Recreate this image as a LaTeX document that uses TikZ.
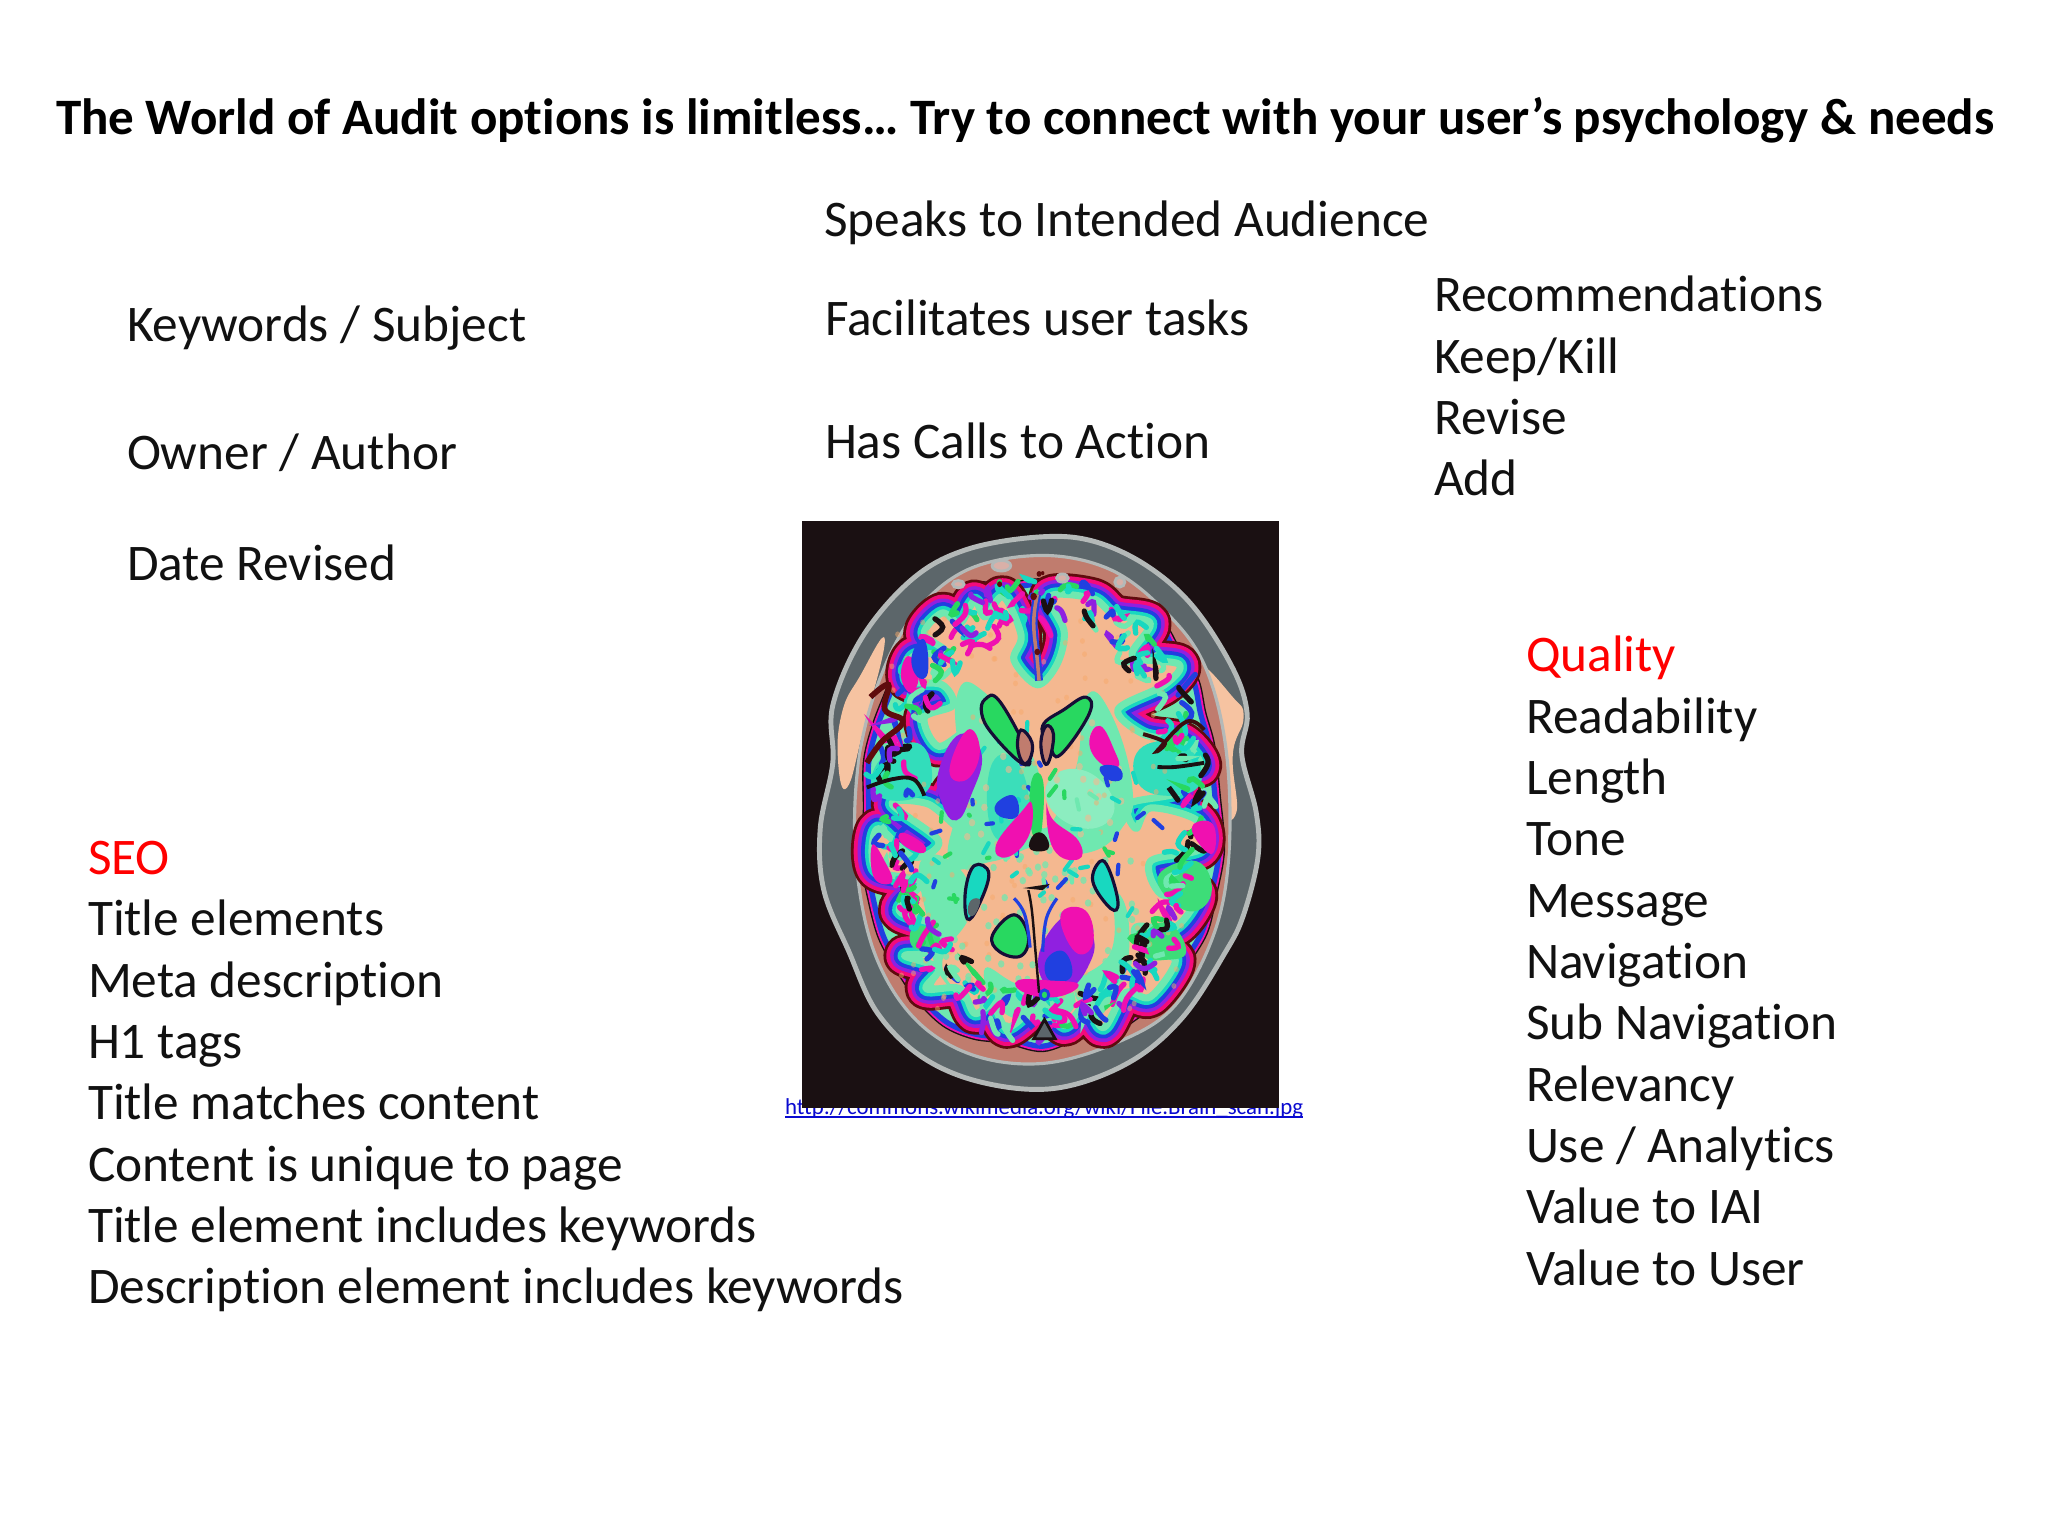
\documentclass[tikz,border=0pt]{standalone}
\usepackage{fontspec}
\setmainfont[Ligatures=NoCommon]{Carlito}
\usetikzlibrary{calc}
\definecolor{ink}{HTML}{111111}
\definecolor{seored}{HTML}{FF0000}
\definecolor{linkblue}{HTML}{0A0AD0}
\definecolor{scanblack}{HTML}{1A1012}
\definecolor{skull}{HTML}{5C666A}
\definecolor{skullline}{HTML}{B4B9B8}
\definecolor{scalp}{HTML}{C07C6E}
\definecolor{peach}{HTML}{F4B890}
\definecolor{mint}{HTML}{6FE8B0}
\definecolor{aqua}{HTML}{18D8C0}
\definecolor{green1}{HTML}{28D860}
\definecolor{blue1}{HTML}{2040E0}
\definecolor{mag}{HTML}{F010B0}
\definecolor{purp}{HTML}{9020E0}
\pgfmathdeclarerandomlist{foldcols}{{mag}{blue1}{aqua}{green1}{purp}{scanblack}{mag}{aqua}{mint}}
\pgfmathdeclarerandomlist{innercols}{{aqua}{mint}{blue1}{green1}}
\tikzset{
  body/.style={inner sep=0pt,outer sep=0pt,anchor=north west,align=left,text=ink,
    font=\fontsize{14.6pt}{17.45pt}\selectfont},
  titletext/.style={inner sep=0pt,outer sep=0pt,anchor=base west,text=black,
    font=\fontsize{14.52pt}{17.5pt}\selectfont\bfseries},
  linktext/.style={inner sep=0pt,outer sep=0pt,anchor=base west,text=linkblue,
    font=\fontsize{6.5pt}{7.5pt}\selectfont},
}
\newcommand{\foldband}[1]{%
  \draw[line width=12pt,color=scanblack!70!red,line join=round] plot[smooth cycle,tension=.55] coordinates {#1};
  \draw[line width=10.4pt,color=mag!70!red,line join=round] plot[smooth cycle,tension=.55] coordinates {#1};
  \draw[line width=8.2pt,color=purp,line join=round] plot[smooth cycle,tension=.55] coordinates {#1};
  \draw[line width=6.2pt,color=blue1,line join=round] plot[smooth cycle,tension=.55] coordinates {#1};
  \draw[line width=4pt,color=aqua,line join=round] plot[smooth cycle,tension=.55] coordinates {#1};
  \draw[line width=2pt,color=mint,line join=round,fill=peach] plot[smooth cycle,tension=.55] coordinates {#1};
}
\newcommand{\pialband}[1]{%
  \draw[line width=5pt,color=scalp,line join=round] plot[smooth cycle,tension=.55] coordinates {#1};
  \draw[line width=3.4pt,color=scanblack,line join=round] plot[smooth cycle,tension=.55] coordinates {#1};
  \draw[line width=2.6pt,color=mag,line join=round] plot[smooth cycle,tension=.55] coordinates {#1};
  \draw[line width=1.5pt,color=blue1,line join=round,fill=mint] plot[smooth cycle,tension=.55] coordinates {#1};
}
\newcommand{\blobline}[2]{%
  \draw[line width=.9pt,color=scanblack!85!blue,fill=#1] plot[smooth cycle,tension=.7] coordinates {#2};
}
\newcommand{\softblob}[2]{%
  \fill[#1] plot[smooth cycle,tension=.8] coordinates {#2};
}
\begin{document}
\begin{tikzpicture}[x=0.01cm,y=-0.01cm]
\useasboundingbox (0,0) rectangle (2048,1536);
\fill[white] (0,0) rectangle (2048,1536);

\node[titletext] (title) at (56,134) {The World of Audit options is limitless… Try to connect with your user’s psychology \& needs};

\node[body] (audience) at (824,201) {Speaks to Intended Audience};
\node[body] (keywords) at (127,306) {Keywords / Subject};
\node[body] (owner) at (127,434) {Owner / Author};
\node[body] (date) at (127,545) {Date Revised};
\node[body] (tasks) at (825,300) {Facilitates user tasks};
\node[body] (calls) at (825,423) {Has Calls to Action};
\node[body] (recs) at (1434,276) {Recommendations\\Keep/Kill\\Revise\\Add};
\node[body] (quality) at (1526,636) {\textcolor{seored}{Quality}\\Readability\\Length\\Tone\\Message\\Navigation\\Sub Navigation\\Relevancy\\Use / Analytics\\Value to IAI\\Value to User};
\node[body] (seo) at (88,841) {\textcolor{seored}{SEO}\\Title elements\\Meta description\\H1 tags\\Title matches content\\Content is unique to page\\Title element includes keywords\\Description element includes keywords};

\node[linktext] (link) at (785,1114) {http://commons.wikimedia.org/wiki/File.Brain\_scan.jpg};
\draw[linkblue,line width=.45pt] ($(link.base west)+(0,3)$) -- ($(link.base east)+(0,3)$);

% the scan, in its own coordinates
\begin{scope}[shift={(770,500)},x=0.00359cm,y=-0.0041cm]
\fill[scanblack] (90,52) rectangle (1420,1480);
\clip (90,52) rectangle (1420,1480);
% head outline
\draw[line width=1.4pt,color=skullline,fill=skull] plot[smooth cycle,tension=.6] coordinates {(750,90)(900,100)(1050,160)(1180,260)(1290,410)(1330,520)(1315,620)(1355,760)(1360,870)(1320,1010)(1270,1100)(1150,1260)(1000,1370)(800,1432)(600,1420)(430,1360)(300,1250)(220,1100)(150,950)(140,800)(175,640)(175,500)(260,330)(400,190)(550,120)};
% scalp fat, pale bands at the temples
\softblob{peach!85!white}{(1190,400)(1290,480)(1320,530)(1290,620)(1300,760)(1250,740)(1200,520)}
\softblob{peach!85!white}{(320,340)(250,430)(200,520)(190,640)(215,700)(260,560)}
% scalp ring
\draw[line width=.9pt,color=skullline,fill=scalp] plot[smooth cycle,tension=.6] coordinates {(760,135)(950,170)(1100,270)(1210,400)(1270,600)(1280,850)(1240,1050)(1130,1230)(970,1320)(760,1372)(560,1350)(400,1260)(290,1100)(240,880)(245,650)(300,450)(400,280)(550,170)};
% cortex, with the wavy outer edge
\pialband{(760,205)(830,225)(920,220)(1000,265)(1085,305)(1130,370)(1180,440)(1200,520)(1225,600)(1240,720)(1252,850)(1230,960)(1205,1050)(1150,1130)(1095,1210)(1020,1250)(950,1290)(860,1300)(760,1330)(660,1310)(570,1300)(490,1270)(420,1210)(365,1140)(315,1060)(285,960)(265,860)(275,760)(275,640)(300,550)(340,460)(370,390)(425,310)(490,265)(560,215)(650,215)}
% white matter with its coloured folded edge
\foldband{(745,450)(680,390)(700,330)(650,235)(600,285)(570,245)(530,300)(480,275)(430,325)(490,370)(400,380)(385,440)(480,450)(510,500)(430,530)(470,600)(560,560)(590,640)(500,720)(530,800)(440,740)(340,740)(470,830)(400,870)(300,800)(295,900)(420,930)(360,1000)(470,1040)(440,1100)(375,1110)(470,1140)(435,1190)(530,1190)(570,1250)(620,1230)(660,1285)(730,1240)(770,1210)(820,1280)(880,1230)(930,1285)(990,1200)(1060,1210)(1130,1120)(1040,1100)(1020,1040)(1130,1040)(1190,960)(1090,960)(1060,880)(1200,850)(1190,780)(1060,750)(1020,800)(1000,740)(1140,710)(1090,640)(1200,650)(1150,590)(1040,570)(970,510)(1100,450)(1140,400)(1010,380)(1060,300)(960,280)(900,240)(780,235)(820,320)(800,400)}
% central green and aqua fields
\softblob{mint}{(520,480)(600,470)(740,640)(760,800)(850,660)(880,480)(950,520)(1010,700)(980,800)(880,860)(760,840)(620,880)(500,880)(530,700)}
\softblob{mint}{(420,880)(520,890)(560,1000)(480,1130)(560,1230)(470,1150)(440,1030)}
\softblob{aqua!60!mint}{(620,640)(690,640)(720,760)(660,830)(610,780)}
\softblob{mint!80!white}{(780,680)(880,660)(960,740)(900,800)(790,760)}
\softblob{mint}{(960,960)(1000,1030)(980,1180)(900,1240)(850,1180)(950,1100)}
\softblob{mint}{(600,1140)(700,1180)(800,1160)(850,1230)(760,1270)(640,1240)}
\softblob{aqua!70!mint}{(300,640)(400,590)(450,650)(420,720)(300,720)}
\softblob{aqua!70!mint}{(1040,600)(1160,600)(1200,690)(1100,720)(1020,680)}
\softblob{green1!70!mint}{(1040,1060)(1110,1030)(1160,1100)(1100,1120)(1040,1110)}
\softblob{green1!70!mint}{(400,1040)(460,1050)(470,1090)(400,1090)}
\softblob{green1!70!mint}{(1080,920)(1190,880)(1230,960)(1160,1000)}
% mottling of the white matter
\pgfmathsetseed{7}
\foreach \k in {1,...,140}{
  \pgfmathsetmacro{\sx}{340+rnd*820}
  \pgfmathsetmacro{\sy}{280+rnd*960}
  \fill[peach!75!orange,opacity=.5] (\sx,\sy) circle[radius=7];
}
\foreach \k in {1,...,90}{
  \pgfmathsetmacro{\sx}{430+rnd*640}
  \pgfmathsetmacro{\sy}{850+rnd*350}
  \fill[mint,opacity=.75] (\sx,\sy) circle[radius=9];
}
\foreach \k in {1,...,50}{
  \pgfmathsetmacro{\sx}{520+rnd*480}
  \pgfmathsetmacro{\sy}{520+rnd*340}
  \fill[peach,opacity=.6] (\sx,\sy) circle[radius=9];
}
% cortical squiggles
\foreach \k in {1,...,300}{
  \pgfmathsetmacro{\sa}{rnd*360}
  \pgfmathsetmacro{\sf}{.80+rnd*.17}
  \pgfmathsetmacro{\sx}{757+470*\sf*cos(\sa)}
  \pgfmathsetmacro{\sy}{745+570*\sf*sin(\sa)}
  \pgfmathrandomitem{\sc}{foldcols}
  \pgfmathsetmacro{\dxa}{(rnd-.5)*60}\pgfmathsetmacro{\dya}{(rnd-.5)*60}
  \pgfmathsetmacro{\dxb}{(rnd-.5)*60}\pgfmathsetmacro{\dyb}{(rnd-.5)*60}
  \draw[line width=1.5pt,color=\sc,line cap=round] plot[smooth,tension=.8] coordinates {(\sx,\sy)(\sx+\dxa,\sy+\dya)(\sx+\dxa+\dxb,\sy+\dya+\dyb)};
}
\foreach \k in {1,...,60}{
  \pgfmathsetmacro{\sa}{rnd*360}
  \pgfmathsetmacro{\sf}{.2+rnd*.55}
  \pgfmathsetmacro{\sx}{757+470*\sf*cos(\sa)}
  \pgfmathsetmacro{\sy}{790+400*\sf*sin(\sa)}
  \pgfmathrandomitem{\sc}{innercols}
  \pgfmathsetmacro{\dxa}{(rnd-.5)*50}\pgfmathsetmacro{\dya}{(rnd-.5)*50}
  \draw[line width=1.2pt,color=\sc,line cap=round] (\sx,\sy) -- (\sx+\dxa,\sy+\dya);
}
% right and left putamen
\softblob{purp}{(470,660)(530,570)(590,620)(560,720)(520,780)(480,740)}
\softblob{mag}{(500,660)(550,560)(585,610)(550,680)}
\softblob{mag}{(890,590)(920,550)(960,610)(970,650)(920,640)}
\softblob{blue1}{(920,650)(970,650)(980,680)(940,680)}
\softblob{blue1}{(630,740)(680,720)(690,770)(640,770)}
% frontal and parietal colour patches
\softblob{mag}{(365,430)(385,380)(415,420)(395,470)}
\softblob{blue1}{(395,380)(430,340)(440,420)(410,430)}
\softblob{mag}{(285,840)(320,880)(340,930)(290,920)}
\softblob{mag}{(1180,790)(1235,790)(1235,860)(1190,830)}
\softblob{mag}{(370,810)(430,840)(420,860)(365,835)}
% posterior vermis
\blobline{green1}{(620,1060)(680,1010)(720,1060)(700,1110)(640,1100)}
\softblob{purp}{(760,1080)(850,1000)(900,1060)(890,1130)(830,1190)(760,1170)}
\softblob{mag}{(810,1010)(880,1000)(900,1080)(850,1100)}
\softblob{blue1}{(770,1120)(820,1100)(840,1160)(780,1170)}
\softblob{mag}{(690,1170)(780,1170)(860,1180)(800,1210)(710,1200)}
% lower midline structures
\draw[line width=.7pt,color=scanblack] plot[smooth,tension=.7] coordinates {(720,950)(730,1000)(740,1100)(750,1200)};
\draw[line width=.9pt,color=blue1] plot[smooth,tension=.7] coordinates {(680,970)(710,1010)(725,1090)};
\draw[line width=.9pt,color=blue1] plot[smooth,tension=.7] coordinates {(800,970)(770,1020)(760,1100)};
\fill[scanblack] (705,945) -- (780,935) -- (760,950) -- cycle;
% tentorium triangle
\draw[line width=.8pt,color=scanblack,fill=skull] (765,1265) -- (795,1312) -- (735,1312) -- cycle;
\draw[line width=.8pt,color=blue1,fill=green1] (765,1205) circle[x radius=12,y radius=12];
% lateral ventricle wings
\blobline{green1}{(600,485)(640,490)(720,620)(700,640)(620,570)(590,520)}
\blobline{green1}{(880,480)(890,520)(810,620)(780,600)(760,550)(820,510)}
\blobline{scalp}{(700,560)(730,590)(725,630)(705,640)(690,600)}
\blobline{scalp}{(770,550)(790,570)(780,630)(765,640)(755,590)}
% triangle of third ventricle
\softblob{green1}{(730,680)(760,680)(760,780)(745,830)(725,780)}
\softblob{mag}{(700,760)(730,740)(720,820)(660,870)(630,840)}
\softblob{mag}{(770,740)(790,780)(860,830)(860,875)(790,850)}
\softblob{scanblack}{(735,815)(765,815)(775,850)(725,850)}
% midline frontal fissure
\draw[line width=2.2pt,color=blue1] plot[smooth,tension=.7] coordinates {(745,230)(735,300)(745,390)(750,440)};
\draw[line width=1pt,color=scalp] plot[smooth,tension=.7] coordinates {(745,230)(735,300)(745,390)(750,440)};
\fill[scanblack!70!red] (735,235) circle[radius=9] (750,180) circle[radius=7] (745,370) circle[radius=8];
% occipital horns
\blobline{aqua}{(570,890)(610,910)(580,990)(550,1020)(545,950)}
\blobline{aqua}{(920,880)(945,900)(970,980)(950,995)(900,930)}
\softblob{skull}{(560,975)(585,975)(570,1010)(552,1005)}
% dark temporal sulci
\draw[line width=1.6pt,color=scanblack!70!red] plot[smooth,tension=.7] coordinates {(280,480)(330,450)(320,510)(370,540)(310,590)(270,640)};
\draw[line width=1.1pt,color=scanblack!85!red] plot[smooth,tension=.7] coordinates {(1040,570)(1100,590)(1080,610)(1160,540)(1210,560)};
\draw[line width=1.1pt,color=scanblack] plot[smooth,tension=.7] coordinates {(1080,650)(1130,650)(1210,640)};
\draw[line width=1.1pt,color=scanblack] plot[smooth,tension=.7] coordinates {(270,700)(340,680)(400,680)(430,720)};
% small vessels on the rim
\draw[line width=.8pt,color=skullline,fill=scalp!60!white] (645,160) circle[x radius=26,y radius=13] (815,190) circle[x radius=16,y radius=10] (525,205) circle[x radius=16,y radius=9] (975,200) circle[x radius=14,y radius=12];
\fill[scanblack!70!red] (640,205) circle[radius=7] (760,178) circle[radius=5];
\end{scope}
\end{tikzpicture}
\end{document}
